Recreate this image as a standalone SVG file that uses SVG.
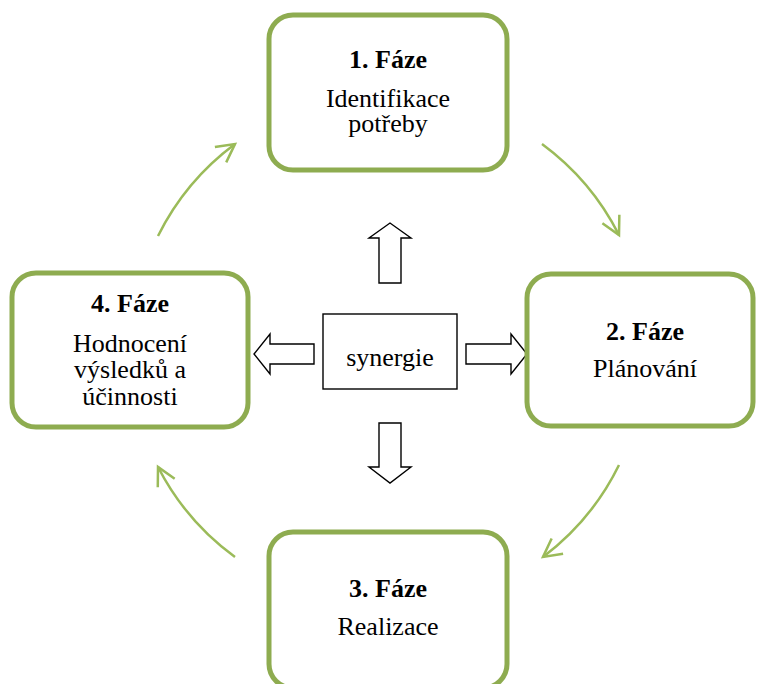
<svg xmlns="http://www.w3.org/2000/svg" width="758" height="684" viewBox="0 0 758 684">
  <style>
    .phase rect { fill: #ffffff; stroke: #8EAC50; stroke-width: 5; }
    .t { font-family: "Liberation Serif", "Times New Roman", serif; font-size: 26px; fill: #000; text-anchor: middle; }
    .b { font-weight: bold; }
    .cycle { fill: none; stroke: #9BBB59; stroke-width: 2.5; marker-end: url(#openHead); }
    .block { fill: #ffffff; stroke: #000; stroke-width: 1.4; stroke-linejoin: miter; }
  </style>
  <defs>
    <marker id="openHead" markerUnits="userSpaceOnUse" orient="auto" markerWidth="30" markerHeight="30" refX="0" refY="0" viewBox="-22 -15 26 30" overflow="visible">
      <path d="M-18,-9.5 L0,0 L-18,9.5" fill="none" stroke="#9BBB59" stroke-width="2.5"/>
    </marker>
  </defs>
  <rect width="758" height="684" fill="#ffffff"/>

  <!-- cycle connectors: arcs of one circle round the centre -->
  <g id="connectors">
    <path class="cycle" d="M542,144 A257,257 0 0 1 619,235"/>
    <path class="cycle" d="M619,465 A257,257 0 0 1 543,557"/>
    <path class="cycle" d="M235,557 A257,257 0 0 1 158,467"/>
    <path class="cycle" d="M158,236 A257,257 0 0 1 235,144"/>
    <!-- block arrows out of the centre -->
    <path class="block" d="M379,283 L379,238 L369,238 L390,223 L411,238 L401,238 L401,283 Z"/>
    <path class="block" d="M379,423 L379,467 L369,467 L390,483 L411,467 L401,467 L401,423 Z"/>
    <path class="block" d="M314,344 L270,344 L270,334 L254,354 L270,374 L270,364 L314,364 Z"/>
    <path class="block" d="M466,344 L511,344 L511,334 L527,354 L511,374 L511,364 L466,364 Z"/>
  </g>

  <g id="synergie">
    <rect x="323" y="314" width="134" height="75" fill="#ffffff" stroke="#000" stroke-width="1.4"/>
    <text class="t" x="390" y="366">synergie</text>
  </g>

  <g id="faze1" class="phase">
    <rect x="269" y="15" width="238" height="155" rx="24" ry="24"/>
    <text class="t b" x="388" y="68">1. Fáze</text>
    <text class="t" x="388" y="107">Identifikace</text>
    <text class="t" x="388" y="132">potřeby</text>
  </g>

  <g id="faze2" class="phase">
    <rect x="527" y="274" width="226" height="152" rx="24" ry="24"/>
    <text class="t b" x="645" y="340">2. Fáze</text>
    <text class="t" x="645" y="377">Plánování</text>
  </g>

  <g id="faze3" class="phase">
    <rect x="269" y="532" width="238" height="156" rx="24" ry="24"/>
    <text class="t b" x="388" y="597">3. Fáze</text>
    <text class="t" x="388" y="635">Realizace</text>
  </g>

  <g id="faze4" class="phase">
    <rect x="12" y="273" width="236" height="154" rx="24" ry="24"/>
    <text class="t b" x="130" y="312">4. Fáze</text>
    <text class="t" x="130" y="352">Hodnocení</text>
    <text class="t" x="130" y="378">výsledků a</text>
    <text class="t" x="130" y="405">účinnosti</text>
  </g>
</svg>
